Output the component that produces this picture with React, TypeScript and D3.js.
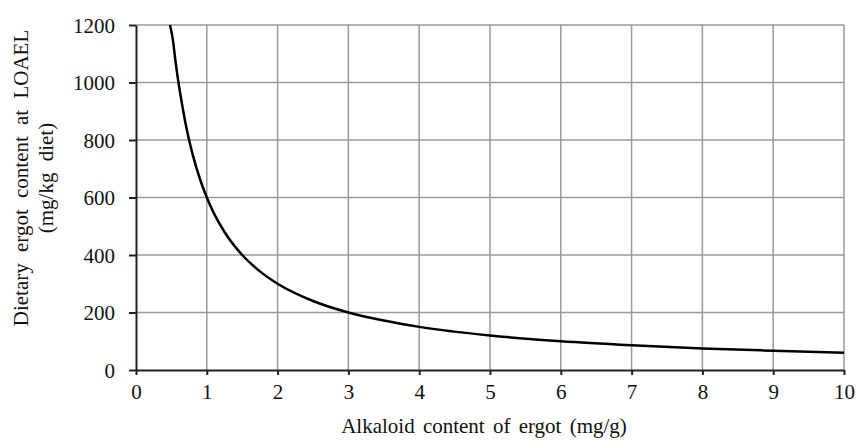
import React, { useRef, useEffect } from "react";
import * as d3 from "d3";

// values
const alkaloid = [0.48, 0.52, 0.56, 0.6, 0.65, 0.7, 0.75, 0.8, 0.9, 1, 1.1, 1.25, 1.5, 1.75, 2, 2.5, 3, 3.5, 4, 5, 6, 7, 8, 9, 10];
const ergotAtLoael = [1200, 1150, 1070, 1000, 925, 857, 800, 750, 667, 600, 545, 480, 400, 343, 300, 240, 200, 172, 150, 120, 100, 86, 75, 67, 60];
const xTicks = [0, 1, 2, 3, 4, 5, 6, 7, 8, 9, 10];
const yTicks = [0, 200, 400, 600, 800, 1000, 1200];

const App = () => {
  const ref = useRef<SVGSVGElement>(null);

  useEffect(() => {
    const svg = d3.select(ref.current);
    svg.selectAll("*").remove();
    const width = 857;
    const height = 441;
    const margin = { top: 25, right: 13, bottom: 71, left: 136 };
    const innerWidth = width - margin.left - margin.right;
    const innerHeight = height - margin.top - margin.bottom;
    const font = "'Liberation Serif', 'Times New Roman', serif";

    const x = d3.scaleLinear().domain([0, 10]).range([0, innerWidth]);
    const y = d3.scaleLinear().domain([0, 1200]).range([innerHeight, 0]);

    svg.attr("width", width).attr("height", height);
    const g = svg.append("g").attr("transform", `translate(${margin.left},${margin.top})`);

    // grid
    g.append("g")
      .selectAll("line")
      .data(xTicks.slice(1))
      .enter()
      .append("line")
      .attr("x1", (d) => x(d))
      .attr("x2", (d) => x(d))
      .attr("y1", 0)
      .attr("y2", innerHeight)
      .attr("stroke", "#9a9a9a")
      .attr("stroke-width", 1.5);
    g.append("g")
      .selectAll("line")
      .data(yTicks.slice(1))
      .enter()
      .append("line")
      .attr("x1", 0)
      .attr("x2", innerWidth)
      .attr("y1", (d) => y(d))
      .attr("y2", (d) => y(d))
      .attr("stroke", "#9a9a9a")
      .attr("stroke-width", 1.5);

    const xAxis = g
      .append("g")
      .attr("transform", `translate(0,${innerHeight})`)
      .call(d3.axisBottom(x).tickValues(xTicks).tickFormat(d3.format("d")).tickSize(5).tickSizeOuter(0).tickPadding(9));
    const yAxis = g
      .append("g")
      .call(d3.axisLeft(y).tickValues(yTicks).tickFormat(d3.format("d")).tickSize(7).tickSizeOuter(0).tickPadding(14));
    [xAxis, yAxis].forEach((a) => {
      a.attr("font-family", null).attr("font-size", null);
      a.select(".domain").attr("stroke", "#222").attr("stroke-width", 2);
      a.selectAll(".tick line").attr("stroke", "#222").attr("stroke-width", 2);
      a.selectAll(".tick text")
        .style("font-family", font)
        .style("font-size", "21px")
        .attr("fill", "#111");
    });
    yAxis.selectAll(".tick text").attr("dy", "0.34em");

    const line = d3
      .line<number>()
      .x((d) => x(d))
      .y((_, i) => y(ergotAtLoael[i]))
      .curve(d3.curveMonotoneX);
    g.append("path")
      .datum(alkaloid)
      .attr("d", line)
      .attr("fill", "none")
      .attr("stroke", "#000")
      .attr("stroke-width", 2.5);

    svg
      .append("text")
      .attr("x", 484)
      .attr("y", 433)
      .attr("text-anchor", "middle")
      .style("font-family", font)
      .style("font-size", "21px")
      .attr("word-spacing", 3)
      .attr("fill", "#111")
      .text("Alkaloid content of ergot (mg/g)");

    const yTitle = svg
      .append("text")
      .attr("transform", `translate(0,178) rotate(-90)`)
      .attr("text-anchor", "middle")
      .style("font-family", font)
      .style("font-size", "21px")
      .attr("word-spacing", 6)
      .attr("fill", "#111");
    yTitle.append("tspan").attr("x", 0).attr("y", 28).text("Dietary ergot content at LOAEL");
    yTitle.append("tspan").attr("x", 0).attr("y", 53).text("(mg/kg diet)");
  }, []);

  return (
    <div style={{ position: "absolute", left: 0, top: 0, width: 857, height: 441, background: "#fff" }}>
      <svg ref={ref}></svg>
    </div>
  );
};

export default App;
